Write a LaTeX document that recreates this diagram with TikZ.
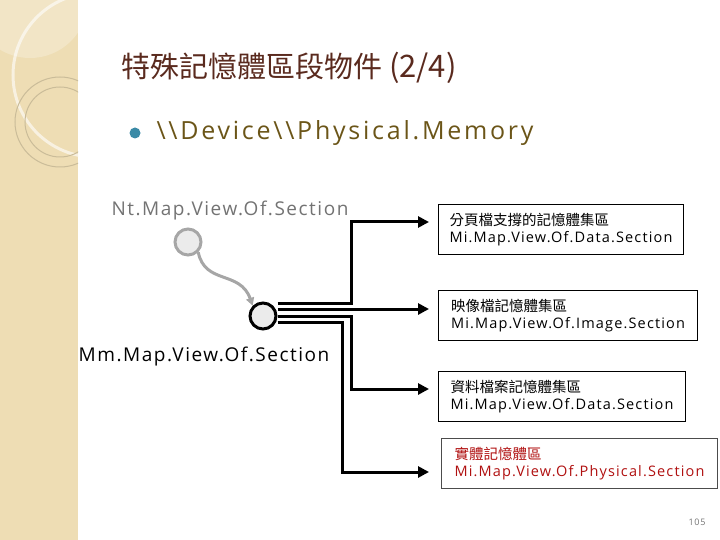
\documentclass[tikz,border=0pt]{standalone}
\usepackage{fontspec}
\setmainfont{Open Sans}[LetterSpace=8]
\newfontfamily\wide{Open Sans}[LetterSpace=11]
\newfontfamily\cjk{Noto Sans CJK TC}
\usetikzlibrary{arrows.meta}
\definecolor{side}{HTML}{EEDDB4}
\definecolor{titlec}{HTML}{5A2A1E}
\definecolor{olive}{HTML}{6B5518}
\definecolor{teal}{HTML}{3A8AA6}
\definecolor{redt}{HTML}{B01010}
\tikzset{
 box/.style={draw,line width=1pt,anchor=north west,align=left,inner sep=3pt,font=\fontsize{14.5}{17}\selectfont,minimum height=50pt},
 conn/.style={line width=3pt,-{Triangle[length=11pt,width=11pt]}},
 ball/.style={circle,minimum size=26pt,inner sep=0pt,fill=black!8,line width=3pt}
}
\begin{document}
\begin{tikzpicture}[x=1pt,y=-1pt]
\useasboundingbox (0,0) rectangle (720,540);
\fill[side] (0,0) rectangle (78,540);
\begin{scope}
\clip (0,0) rectangle (78,540);
\draw[white!60!side,line width=3pt] (95,75) circle (82);
\fill[white,opacity=0.25] (30,0) circle (58);
\draw[black!15!side,line width=1pt] (60,122) circle (45);
\draw[black!15!side,line width=1pt] (60,122) circle (35);
\end{scope}
\node[anchor=west,text=titlec,font=\cjk\fontsize{29}{34}\selectfont] (title) at (118,68) {特殊記憶體區段物件 {\fontsize{31}{34}\selectfont (2/4)}};
\node[circle,fill=teal,inner sep=0pt,minimum size=11pt] (dot) at (135,133) {};
\node[anchor=west,text=olive,font=\wide\fontsize{25}{30}\selectfont] (dev) at (153,133) {\textbackslash\textbackslash Device\textbackslash\textbackslash Physical.Memory};
\node[text=black!55,font=\fontsize{19}{22}\selectfont] (ntl) at (230,211) {Nt.Map.View.Of.Section};
\node[ball,draw=black!35] (nt) at (188,242) {};
\node[ball,draw=black] (mm) at (263,316) {};
\node[font=\fontsize{19}{22}\selectfont] (mml) at (204,357) {Mm.Map.View.Of.Section};
\draw[black!35,line width=3pt,-{Triangle[length=8pt,width=8pt]}] (nt.south east) .. controls (205,285) and (240,270) .. (mm.north west);
\node[box,minimum width=245pt] (b1) at (438,204) {{\cjk 分頁檔支撐的記憶體集區}\\Mi.Map.View.Of.Data.Section};
\node[box,minimum width=259pt] (b2) at (438,290) {{\cjk 映像檔記憶體集區}\\Mi.Map.View.Of.Image.Section};
\node[box,minimum width=247pt] (b3) at (438,371) {{\cjk 資料檔案記憶體集區}\\Mi.Map.View.Of.Data.Section};
\node[box,minimum width=276pt,draw=black!70,text=redt] (b4) at (441,438) {{\cjk 實體記憶體區}\\Mi.Map.View.Of.Physical.Section};
\coordinate (e1) at (429,222);
\coordinate (e2) at (429,309);
\coordinate (e3) at (429,389);
\coordinate (e4) at (429,472);
\draw[conn] (mm.east |- 0,303) -- (351,303) -- (351,222) -- (e1);
\draw[conn] (mm.east |- 0,309) -- (e2);
\draw[conn] (mm.east |- 0,316) -- (351,316) -- (351,389) -- (e3);
\draw[conn] (mm.east |- 0,322) -- (342,322) -- (342,472) -- (e4);
\node[text=black!55,font=\fontsize{9}{10}\selectfont] (pg) at (697,522) {105};
\end{tikzpicture}
\end{document}
